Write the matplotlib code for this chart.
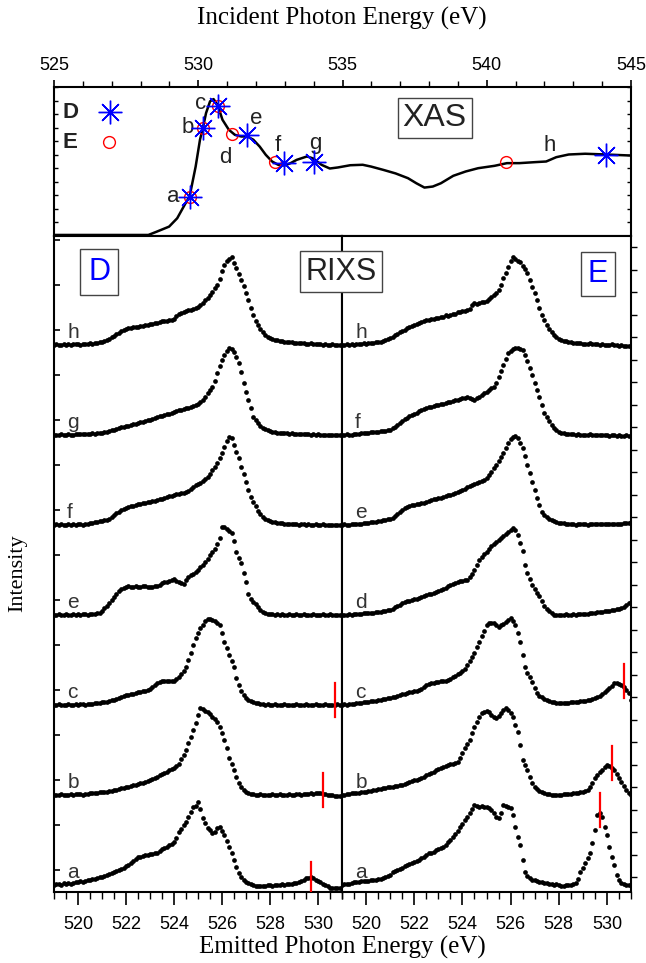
import numpy as np
import matplotlib
matplotlib.use('Agg')
import matplotlib.pyplot as plt
from matplotlib.ticker import MultipleLocator

SANS = 'Liberation Sans'
SERIF = 'Liberation Serif'

# ---- XAS (incident photon energy) ----
xas_energy = [525.0, 526.7, 528.27, 528.56, 528.99, 529.27, 529.56, 529.7, 529.91, 530.06,
              530.16, 530.27, 530.41, 530.53, 530.67, 530.84, 531.06, 531.27, 531.49, 531.7,
              531.91, 532.13, 532.34, 532.56, 532.77, 532.99, 533.2, 533.41, 533.77, 533.99,
              534.27, 534.56, 534.84, 535.27, 535.7, 535.99, 536.41, 536.84, 537.27, 537.56,
              537.84, 538.13, 538.41, 538.84, 539.27, 539.7, 540.27, 540.7, 541.13, 541.7,
              542.06, 542.41, 542.84, 543.41, 544.13, 545.0]
xas_intensity = [0.007, 0.007, 0.007, 0.029, 0.063, 0.119, 0.22, 0.265, 0.466, 0.646,
                 0.724, 0.825, 0.904, 0.919, 0.88, 0.78, 0.713, 0.679, 0.668, 0.668,
                 0.646, 0.60, 0.545, 0.50, 0.478, 0.473, 0.489, 0.511, 0.534, 0.52,
                 0.478, 0.453, 0.46, 0.475, 0.478, 0.466, 0.444, 0.42, 0.388, 0.354,
                 0.325, 0.332, 0.354, 0.404, 0.433, 0.455, 0.471, 0.489, 0.489, 0.496,
                 0.50, 0.529, 0.547, 0.552, 0.547, 0.54]

d_exc_energy = [529.7, 530.16, 530.67, 531.7, 532.96, 534.01, 544.13]
d_exc_intensity = [0.265, 0.724, 0.87, 0.68, 0.489, 0.496, 0.545]
e_exc_energy = [529.7, 530.16, 530.7, 531.17, 532.67, 540.67]
e_exc_intensity = [0.265, 0.724, 0.87, 0.684, 0.496, 0.496]

xas_letters = ['a', 'b', 'c', 'd', 'e', 'f', 'g', 'h']
xas_letter_energy = [529.12, 529.63, 530.08, 530.95, 532.01, 532.77, 534.05, 542.19]
xas_letter_intensity = [0.262, 0.725, 0.886, 0.53, 0.79, 0.61, 0.624, 0.61]

# ---- RIXS (emitted photon energy), 0.1 eV steps from 519.0 to 531.0 ----
emission_energy = np.round(np.arange(519.0, 531.05, 0.1), 1)

d_h = [0, 1, 0, 0, 1, 0, 1, 0, 1, 1, 1, 0, 1, 1, 1, 2, 1, 2, 2, 3,
       3, 4, 5, 6, 8, 9, 11, 12, 14, 15, 16, 17, 17, 18, 18, 18, 19, 19, 20, 20,
       21, 21, 22, 22, 23, 24, 24, 24, 25, 25, 26, 29, 31, 32, 33, 34, 35, 35, 36, 37,
       38, 40, 42, 45, 47, 50, 53, 57, 60, 66, 74, 80, 84, 86, 88, 82, 77, 71, 65, 59,
       52, 45, 37, 30, 24, 20, 16, 13, 10, 8, 7, 6, 5, 5, 4, 4, 3, 3, 3, 3,
       2, 2, 2, 2, 2, 1, 1, 2, 1, 1, 1, 1, 0, 1, 0, 0, 1, 0, 0, 0, 0]
d_g = [0, 0, 0, 1, 0, 0, 1, 0, 0, 1, 1, 1, 1, 1, 1, 1, 2, 1, 2, 2,
       2, 3, 3, 4, 5, 5, 6, 7, 8, 8, 9, 9, 10, 11, 11, 12, 13, 13, 14, 15,
       15, 16, 17, 18, 19, 19, 20, 21, 21, 22, 23, 24, 25, 25, 26, 27, 27, 28, 29, 30,
       31, 33, 35, 38, 42, 45, 48, 54, 62, 69, 75, 80, 84, 87, 86, 83, 78, 72, 63, 52,
       43, 35, 27, 18, 15, 12, 9, 7, 6, 5, 4, 3, 3, 2, 2, 2, 2, 2, 1, 2,
       1, 1, 1, 1, 1, 1, 1, 0, 1, 0, 1, 0, 0, 0, 0, 0, 0, 0, 0, 0, 0]
d_f = [0, 1, 0, 1, 0, 0, 1, 0, 1, 0, 1, 1, 0, 1, 1, 2, 2, 3, 3, 4,
       4, 5, 5, 6, 8, 10, 12, 13, 15, 16, 17, 18, 19, 19, 20, 21, 21, 22, 22, 23,
       23, 24, 24, 25, 26, 26, 27, 28, 29, 29, 30, 31, 31, 32, 32, 33, 34, 36, 38, 40,
       41, 42, 44, 46, 48, 51, 55, 58, 62, 67, 72, 78, 84, 88, 87, 80, 73, 67, 58, 51,
       43, 35, 28, 23, 19, 14, 11, 8, 6, 5, 4, 3, 3, 2, 2, 2, 1, 1, 1, 1,
       1, 1, 0, 1, 1, 0, 1, 0, 0, 1, 0, 0, 1, 0, 0, 0, 0, 0, 0, 0, 0]
d_e = [0, 0, 1, 0, 0, 1, 0, 0, 1, 0, 1, 0, 1, 1, 0, 1, 1, 1, 2, 2,
       4, 7, 9, 12, 15, 18, 21, 24, 26, 27, 28, 29, 28, 28, 29, 28, 28, 29, 29, 28,
       28, 28, 29, 29, 30, 32, 33, 33, 34, 35, 36, 34, 33, 32, 31, 35, 38, 40, 41, 43,
       45, 48, 50, 53, 56, 60, 63, 66, 71, 77, 88, 88, 86, 84, 82, 74, 63, 57, 52, 42,
       33, 21, 16, 13, 11, 8, 5, 3, 2, 1, 1, 1, 0, 1, 0, 1, 0, 0, 1, 0,
       0, 1, 0, 0, 1, 0, 0, 0, 1, 0, 0, 0, 1, 0, 0, 1, 0, 0, 0, 0, 0]
d_c = [0, 0, 1, 0, 0, 0, 1, 0, 0, 1, 0, 1, 1, 0, 1, 1, 1, 2, 2, 2,
       3, 3, 3, 4, 5, 5, 6, 7, 8, 9, 10, 10, 11, 11, 12, 13, 13, 14, 14, 15,
       16, 18, 20, 22, 23, 24, 24, 24, 24, 24, 24, 26, 28, 31, 34, 38, 45, 52, 60, 67,
       72, 77, 80, 84, 86, 86, 85, 84, 82, 80, 72, 63, 57, 50, 44, 38, 27, 20, 14, 10,
       7, 5, 4, 3, 2, 2, 1, 1, 0, 1, 0, 0, 1, 0, 0, 0, 1, 0, 0, 0,
       0, 1, 0, 0, 0, 1, 0, 0, 0, 1, 0, 0, 0, 1, 0, 0, 0, 0, 1, 0, 0]
d_b = [0, 0, 0, 1, 0, 0, 0, 1, 0, 1, 1, 1, 0, 1, 1, 2, 2, 2, 2, 3,
       3, 3, 3, 4, 4, 5, 5, 6, 7, 7, 8, 8, 9, 10, 10, 11, 12, 12, 13, 14,
       15, 16, 17, 18, 20, 21, 22, 23, 25, 26, 27, 29, 31, 36, 40, 45, 52, 58, 65, 72,
       80, 87, 86, 84, 83, 81, 78, 76, 73, 68, 62, 55, 47, 37, 31, 25, 18, 12, 8, 5,
       3, 2, 1, 1, 0, 0, 1, 0, 0, 0, 0, 1, 0, 0, 1, 0, 0, 0, 1, 0,
       0, 1, 1, 0, 1, 1, 1, 2, 1, 2, 2, 2, 1, 1, 0, 0, 0, -1, -1, -1, -1]
d_a = [0, 1, 1, 0, 2, 1, 2, 1, 2, 3, 3, 4, 3, 4, 5, 5, 6, 6, 7, 8,
       8, 9, 10, 11, 12, 13, 14, 15, 16, 17, 19, 20, 22, 24, 26, 28, 28, 29, 30, 30,
       31, 31, 32, 32, 34, 36, 37, 38, 40, 41, 43, 47, 53, 56, 60, 63, 68, 73, 78, 79,
       83, 76, 67, 62, 57, 55, 52, 53, 57, 58, 54, 50, 44, 38, 32, 25, 18, 12, 8, 5,
       3, 2, 1, 0, -1, -1, -1, -1, -1, 0, 0, -1, 0, 0, 0, 1, 0, 1, 1, 1,
       2, 2, 3, 4, 5, 7, 7, 8, 7, 5, 4, 3, 1, 0, -1, -3, -3, -3, -3, -3, -3]

e_h = [0, 0, 1, 0, 1, 0, 1, 1, 1, 2, 1, 2, 2, 2, 3, 3, 3, 4, 5, 6,
       7, 8, 10, 11, 13, 14, 15, 17, 18, 19, 20, 21, 22, 23, 24, 25, 25, 26, 26, 27,
       27, 28, 28, 30, 29, 30, 31, 31, 33, 33, 34, 34, 35, 36, 40, 42, 41, 42, 43, 43,
       44, 46, 48, 50, 52, 55, 60, 67, 72, 78, 84, 88, 86, 84, 83, 79, 76, 72, 65, 58,
       52, 45, 37, 30, 25, 20, 16, 13, 10, 8, 6, 5, 4, 4, 3, 3, 2, 2, 2, 2,
       1, 1, 1, 2, 1, 1, 1, 0, 1, 0, 0, 0, 1, 0, 0, -1, 0, -1, -1, -1, -1]
e_f = [0, 0, 1, 0, 0, 1, 1, 1, 2, 2, 2, 2, 3, 3, 3, 3, 4, 4, 4, 5,
       5, 7, 8, 10, 12, 14, 16, 17, 19, 20, 21, 22, 24, 25, 26, 27, 28, 28, 29, 30,
       30, 31, 31, 32, 33, 33, 34, 35, 35, 36, 37, 37, 38, 37, 36, 35, 37, 38, 40, 42,
       43, 45, 47, 48, 52, 58, 64, 70, 76, 82, 84, 86, 87, 87, 86, 85, 80, 74, 67, 60,
       52, 45, 38, 30, 22, 18, 14, 10, 7, 5, 3, 2, 2, 1, 1, 1, 1, 0, 1, 0,
       0, 0, 0, 1, 0, 0, 0, 0, 0, 0, 0, -1, 0, 0, -1, 0, -1, -1, 0, -1, -1]
e_e = [0, 1, 0, 0, 1, 1, 1, 1, 1, 2, 2, 2, 3, 3, 3, 4, 4, 5, 5, 6,
       6, 7, 9, 11, 13, 15, 17, 18, 19, 20, 20, 21, 21, 22, 22, 23, 24, 25, 26, 26,
       27, 27, 28, 29, 30, 30, 31, 32, 33, 34, 35, 36, 38, 39, 40, 41, 42, 43, 44, 45,
       47, 50, 53, 57, 60, 64, 68, 72, 77, 82, 86, 88, 89, 87, 82, 77, 69, 60, 52, 43,
       35, 27, 20, 13, 10, 8, 6, 5, 4, 3, 2, 2, 2, 1, 1, 1, 1, 0, 1, 1,
       1, 1, 0, 1, 1, 1, 1, 1, 1, 1, 1, 1, 1, 1, 1, 1, 1, 2, 2, 2, 3]
e_d = [0, 0, 0, 1, 0, 1, 1, 1, 1, 2, 2, 2, 2, 2, 3, 3, 3, 4, 4, 5,
       5, 6, 8, 9, 10, 12, 13, 14, 14, 15, 16, 16, 17, 18, 19, 20, 21, 21, 22, 23,
       24, 25, 26, 27, 29, 30, 31, 32, 33, 34, 34, 35, 35, 38, 41, 45, 50, 55, 58, 61,
       63, 66, 69, 71, 73, 75, 77, 79, 81, 83, 85, 87, 85, 80, 72, 64, 50, 42, 36, 30,
       26, 22, 19, 14, 9, 6, 4, 2, 0, 0, 0, 0, 0, 1, 0, 0, 1, 0, 1, 1,
       1, 1, 1, 2, 2, 2, 3, 3, 3, 4, 4, 4, 5, 5, 6, 6, 7, 8, 10, 12, 13]
e_c = [0, 1, 0, 1, 1, 1, 2, 2, 2, 3, 3, 3, 4, 4, 4, 5, 5, 6, 6, 7,
       7, 8, 8, 9, 10, 11, 11, 12, 13, 13, 14, 14, 15, 16, 18, 20, 21, 22, 22, 23,
       23, 24, 24, 24, 25, 26, 28, 29, 31, 32, 34, 36, 40, 44, 48, 52, 58, 63, 69, 74,
       80, 82, 82, 82, 80, 78, 80, 81, 83, 85, 87, 84, 80, 72, 63, 50, 38, 32, 28, 23,
       17, 12, 9, 8, 6, 5, 4, 3, 3, 2, 2, 2, 2, 2, 2, 3, 3, 3, 3, 4,
       4, 4, 5, 5, 6, 7, 8, 9, 11, 13, 15, 17, 19, 22, 22, 21, 20, 18, 15, 12, 5]
e_b = [0, 0, 1, 1, 2, 2, 2, 2, 3, 3, 3, 4, 4, 5, 5, 6, 6, 7, 7, 8,
       8, 8, 9, 9, 10, 10, 11, 12, 13, 14, 15, 15, 16, 17, 18, 20, 21, 22, 23, 25,
       26, 27, 28, 29, 30, 31, 31, 32, 33, 37, 42, 47, 51, 55, 62, 68, 73, 78, 82, 83,
       84, 83, 80, 78, 77, 79, 82, 85, 87, 85, 82, 78, 70, 63, 50, 35, 30, 25, 18, 12,
       8, 6, 4, 3, 2, 1, 1, 0, 0, 0, 0, 0, 1, 1, 1, 1, 2, 2, 2, 3,
       3, 4, 5, 8, 12, 17, 20, 23, 25, 28, 30, 29, 27, 25, 21, 17, 13, 9, 5, 2, 0]
e_a = [0, 1, 1, 1, 2, 3, 3, 3, 4, 4, 4, 4, 5, 5, 5, 6, 6, 7, 8, 9,
       10, 13, 14, 15, 16, 17, 19, 20, 21, 22, 23, 24, 25, 27, 28, 30, 32, 32, 33, 35,
       36, 37, 38, 40, 43, 45, 48, 51, 54, 58, 61, 65, 68, 72, 76, 80, 79, 78, 79, 78,
       78, 77, 75, 72, 68, 67, 72, 80, 79, 78, 77, 70, 58, 48, 40, 25, 13, 9, 7, 5,
       5, 4, 3, 3, 2, 2, 1, 1, 0, 1, 0, -1, -1, 0, 0, 0, 1, 2, 6, 13,
       17, 22, 27, 32, 42, 55, 70, 72, 68, 58, 50, 38, 28, 20, 10, 5, 2, 1, 0, 0, 0]

d_spectra = [d_a, d_b, d_c, d_e, d_f, d_g, d_h]
d_names = ['a', 'b', 'c', 'e', 'f', 'g', 'h']
e_spectra = [e_a, e_b, e_c, e_d, e_e, e_f, e_h]
e_names = ['a', 'b', 'c', 'd', 'e', 'f', 'h']

# excitation energies a, b, c marked on the RIXS spectra (red bars)
elastic_energy = [529.7, 530.2, 530.7]
d_elastic_level = [6, 5, 5]
e_elastic_level = [75, 32, 24]

OFFSET = 90

fig = plt.figure(figsize=(6.46, 9.63), dpi=100)

# ---------------- XAS panel ----------------
ax_x = fig.add_axes([54 / 646, 1 - 236 / 963, 577 / 646, 149 / 963])
ax_x.plot(xas_energy, xas_intensity, color='black', lw=1.8, zorder=2)
ax_x.plot(e_exc_energy, e_exc_intensity, 'o', ms=8.5, mfc='none', mec='red', mew=1.0, zorder=3)
ax_x.plot(d_exc_energy, d_exc_intensity, ls='none', marker=(8, 2, 0), ms=17, color='blue',
          mew=1.0, zorder=4)
ax_x.plot(d_exc_energy, d_exc_intensity, 'o', ms=3, color='blue', zorder=4)
for t, xe, yi in zip(xas_letters, xas_letter_energy, xas_letter_intensity):
    ax_x.text(xe, yi, t, ha='center', va='center', fontsize=16, color='#222222', family=SANS)
ax_x.set_xlim(525, 545)
ax_x.set_ylim(0, 1)
ax_x.xaxis.tick_top()
ax_x.xaxis.set_major_locator(MultipleLocator(5))
ax_x.xaxis.set_minor_locator(MultipleLocator(1))
ax_x.tick_params(axis='x', which='major', direction='out', length=5, width=1.2, labelsize=13, pad=4)
ax_x.tick_params(axis='x', which='minor', direction='out', length=4, width=1.0)
ax_x.set_yticks(np.linspace(0, 1, 12))
ax_x.tick_params(axis='y', direction='in', length=3, width=1.0, left=True, right=True, labelleft=False)
for lab in ax_x.get_xticklabels():
    lab.set_family(SANS)
for sp in ax_x.spines.values():
    sp.set_linewidth(1.5)

# legend drawn by hand, as in the original
ax_x.text(0.014, 0.83, 'D', transform=ax_x.transAxes, fontsize=16, fontweight='bold',
          family=SANS, color='#222222', va='center', ha='left')
ax_x.plot([0.097], [0.83], ls='none', marker=(8, 2, 0), ms=17, color='blue', mew=1.0,
          transform=ax_x.transAxes)
ax_x.plot([0.097], [0.83], ls='none', marker='o', ms=3, color='blue',
          transform=ax_x.transAxes)
ax_x.text(0.014, 0.63, 'E', transform=ax_x.transAxes, fontsize=16, fontweight='bold',
          family=SANS, color='#222222', va='center', ha='left')
ax_x.plot([0.095], [0.63], ls='none', marker='o', ms=8.5, mfc='none', mec='red', mew=1.0,
          transform=ax_x.transAxes)
ax_x.text(538.2, 0.79, 'XAS', ha='center', va='center', fontsize=23, family=SANS, color='#222222',
          bbox=dict(boxstyle='square,pad=0.15', fc='white', ec='#444444', lw=1.0))

# ---------------- RIXS panels ----------------
ax_d = fig.add_axes([54 / 646, 1 - 892 / 963, 288 / 646, 656 / 963])
ax_e = fig.add_axes([342 / 646, 1 - 892 / 963, 289 / 646, 656 / 963])

for ax, spectra, names, levels in [(ax_d, d_spectra, d_names, d_elastic_level),
                                   (ax_e, e_spectra, e_names, e_elastic_level)]:
    for i, (spec, name) in enumerate(zip(spectra, names)):
        off = i * OFFSET
        ax.plot(emission_energy, np.array(spec) + off, 'o', ms=3.4, color='black', mew=0)
        ax.text(519.55, off + 3, name, ha='left', va='bottom', fontsize=15,
                color='#333333', family=SANS)
    for i, (ee, lev) in enumerate(zip(elastic_energy, levels)):
        yc = i * OFFSET + lev
        ax.plot([ee, ee], [yc - 17, yc + 17], color='red', lw=1.6, zorder=5)
    ax.set_xlim(519, 531)
    ax.set_ylim(-7, 649)
    ax.xaxis.set_major_locator(MultipleLocator(2))
    ax.xaxis.set_minor_locator(MultipleLocator(0.5))
    ax.tick_params(axis='x', which='major', direction='out', length=9, width=1.2,
                   labelsize=13, pad=8, top=False)
    ax.tick_params(axis='x', which='minor', direction='out', length=5, width=1.0, top=False)
    for lab in ax.get_xticklabels():
        lab.set_family(SANS)
    for sp in ax.spines.values():
        sp.set_linewidth(1.5)

ax_d.set_yticks(np.arange(0, 649, 45) - 7 + 22)
ax_d.tick_params(axis='y', direction='in', length=4, width=1.2, labelleft=False)
ax_e.set_yticks(np.arange(0, 649, 22.5) + 8)
ax_e.tick_params(axis='y', direction='out', length=4, width=1.0, left=False, right=True,
                 labelleft=False, labelright=False)

ax_d.text(520.88, 613, 'D', ha='center', va='center', fontsize=22, color='blue', family=SANS,
          bbox=dict(boxstyle='square,pad=0.25', fc='white', ec='#444444', lw=1.0))
ax_e.text(529.63, 611, 'E', ha='center', va='center', fontsize=22, color='blue', family=SANS,
          bbox=dict(boxstyle='square,pad=0.22', fc='white', ec='#444444', lw=1.0))
fig.text(341 / 646, 1 - 272 / 963, 'RIXS', ha='center', va='center', fontsize=22,
         color='#222222', family=SANS, zorder=10,
         bbox=dict(boxstyle='square,pad=0.18', fc='white', ec='#444444', lw=1.0))

fig.text(342 / 646, 1 - 18 / 963, 'Incident Photon Energy (eV)', ha='center', va='center',
         family=SERIF, fontsize=18)
fig.text(342 / 646, 1 - 947 / 963, 'Emitted Photon Energy (eV)', ha='center', va='center',
         family=SERIF, fontsize=18)
fig.text(18 / 646, 1 - 573 / 963, 'Intensity', ha='center', va='center', rotation=90,
         family=SERIF, fontsize=16)

fig.savefig('out.png', dpi=100)
